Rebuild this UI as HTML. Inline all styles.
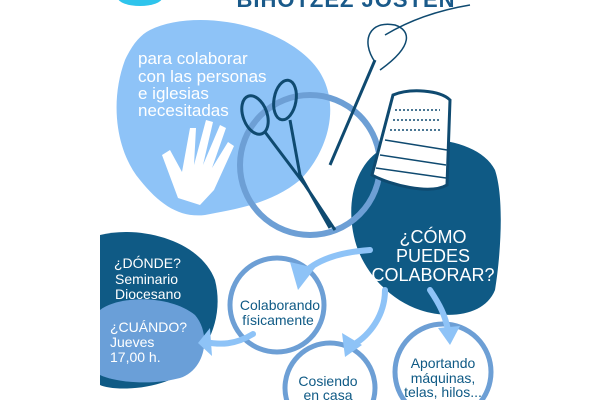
<!DOCTYPE html>
<html><head><meta charset="utf-8"><style>
html,body{margin:0;padding:0;background:#fff;width:600px;height:400px;overflow:hidden}
svg{display:block;overflow:hidden}
svg text{font-family:"Liberation Sans",sans-serif}
</style></head><body>
<svg width="600" height="400" viewBox="0 0 600 400">
<ellipse cx="140" cy="-2" rx="22" ry="8" fill="#2ec4ec"/>
<text x="346" y="7" font-size="22" font-weight="bold" fill="#1a5a8a" text-anchor="middle" letter-spacing="1">BIHOTZEZ JOSTEN</text>
<path d="M150 30 C190 10 270 20 310 60 C345 95 330 150 300 180 C270 205 230 210 205 215 C180 218 160 205 140 180 C115 150 110 100 125 60 C132 45 140 35 150 30Z" fill="#8ec3f7"/>
<g fill="#fff" font-size="17">
<text x="138" y="64">para colaborar</text>
<text x="138" y="82">con las personas</text>
<text x="138" y="99">e iglesias</text>
<text x="138" y="116">necesitadas</text>
</g>
<path d="M170 150 L182 172 L190 128 L196 128 L194 165 L206 120 L213 122 L203 165 L220 125 L226 128 L212 168 L228 142 L234 146 L214 190 L200 205 L178 198 L162 155Z" fill="#fff"/>
<path d="M380 150 C420 130 480 140 495 170 C505 200 500 260 495 290 C485 315 450 320 420 310 C395 302 370 280 358 250 C345 215 350 170 380 150Z" fill="#0f5a85"/>
<circle cx="310" cy="165" r="70" fill="none" stroke="#6d9fd5" stroke-width="6"/>
<path d="M375 60 L330 165" stroke="#0f4a70" stroke-width="3"/>
<path d="M375 62 C360 40 370 20 395 25 C410 30 415 45 380 70 M385 35 C410 20 440 10 470 5" stroke="#0f4a70" stroke-width="1.5" fill="none"/>
<g stroke="#0f4a70" stroke-width="3" fill="none">
<ellipse cx="255" cy="115" rx="12" ry="20" transform="rotate(-20 255 115)"/>
<ellipse cx="285" cy="100" rx="11" ry="20" transform="rotate(10 285 100)"/>
<path d="M265 132 L305 185 L335 230 M290 120 L300 175 L330 228"/>
</g>
<path d="M393 95 C410 88 440 90 450 100 L447 185 C430 195 390 185 372 175 Z" fill="#fff" stroke="#0f4a70" stroke-width="3"/>
<g stroke="#0f4a70" stroke-width="1.5" fill="none">
<path d="M385 140 L447 150 M380 155 L446 165 M376 168 L446 178"/>
<path d="M395 110 h45 M393 120 h48 M390 130 h52" stroke-dasharray="2 2"/>
</g>
<text x="433" y="243" fill="#fff" font-size="18" text-anchor="middle">¿CÓMO</text>
<text x="433" y="262" fill="#fff" font-size="18" text-anchor="middle">PUEDES</text>
<text x="433" y="281" fill="#fff" font-size="18" text-anchor="middle">COLABORAR?</text>
<path d="M100 235 C140 225 200 240 215 280 C225 320 205 355 180 375 C150 392 110 390 100 385Z" fill="#0f5a85"/>
<path d="M100 310 C120 295 170 295 195 315 C212 335 205 370 180 378 C150 386 115 382 100 375Z" fill="#6a9fd8"/>
<g fill="#fff" font-size="14">
<text x="114" y="268">¿DÓNDE?</text>
<text x="115" y="284">Seminario</text>
<text x="115" y="299">Diocesano</text>
<text x="110" y="332">¿CUÁNDO?</text>
<text x="110" y="347">Jueves</text>
<text x="110" y="362">17,00 h.</text>
</g>
<g fill="#fff" stroke="#6d9fd5" stroke-width="5">
<circle cx="277" cy="305" r="47"/>
<circle cx="330" cy="388" r="45"/>
<circle cx="443" cy="372" r="48"/>
</g>
<g fill="#0f5a85" font-size="14" text-anchor="middle">
<text x="280" y="310">Colaborando</text>
<text x="278" y="325">físicamente</text>
<text x="328" y="386">Cosiendo</text>
<text x="328" y="400">en casa</text>
<text x="443" y="368">Aportando</text>
<text x="443" y="383">máquinas,</text>
<text x="443" y="397">telas, hilos...</text>
</g>
<g fill="none" stroke="#8ec3f7" stroke-width="6" stroke-linecap="round">
<path d="M370 250 C340 252 315 260 302 275"/>
<path d="M385 290 C385 315 370 335 353 345"/>
<path d="M430 290 C440 305 445 315 448 330"/>
<path d="M253 334 C235 345 220 345 205 342"/>
</g>
<g fill="#8ec3f7">
<path d="M290 262 L315 268 L298 290Z"/>
<path d="M342 333 L362 345 L345 357Z"/>
<path d="M438 328 L460 326 L450 345Z"/>
<path d="M210 328 L198 343 L212 356Z"/>
</g>
</svg>
</body></html>
